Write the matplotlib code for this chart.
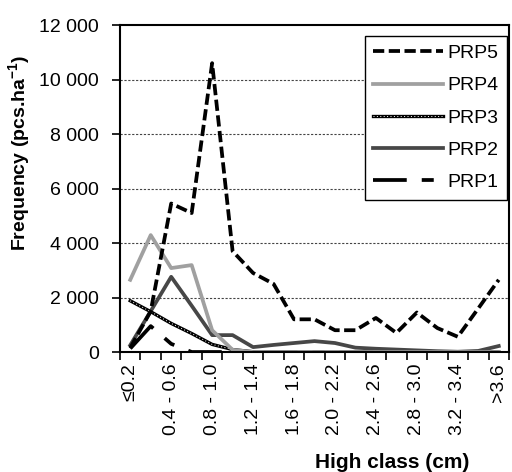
import numpy as np
import matplotlib
matplotlib.use('Agg')
import matplotlib.pyplot as plt
from matplotlib.legend_handler import HandlerTuple

plt.rcParams['font.family'] = ['Liberation Sans', 'DejaVu Sans']
plt.rcParams['mathtext.fontset'] = 'custom'
plt.rcParams['mathtext.rm'] = 'Liberation Sans:bold'

# height classes (cm)
classes = ['≤0.2', '0.2 - 0.4', '0.4 - 0.6', '0.6 - 0.8', '0.8 - 1.0', '1.0 - 1.2',
           '1.2 - 1.4', '1.4 - 1.6', '1.6 - 1.8', '1.8 - 2.0', '2.0 - 2.2', '2.2 - 2.4',
           '2.4 - 2.6', '2.6 - 2.8', '2.8 - 3.0', '3.0 - 3.2', '3.2 - 3.4', '3.4 - 3.6', '>3.6']

# frequency (pcs/ha) per plot
prp5 = [150, 1500, 5450, 5100, 10600, 3700, 2900, 2500, 1200, 1200,
        800, 800, 1250, 700, 1450, 880, 560, 1600, 2650]
prp4 = [2650, 4290, 3080, 3190, 800, 80, 0, 0, 0, 0,
        0, 0, 0, 0, 0, 0, 0, 0, 0]
prp3 = [1880, 1480, 1050, 680, 280, 90, 10, 0, 0, 0,
        0, 0, 0, 0, 0, 0, 0, 0, 0]
prp2 = [250, 1500, 2760, 1700, 620, 620, 180, 260, 330, 400,
        330, 160, 120, 90, 60, 30, 10, 40, 220]
prp1 = [130, 950, 300, 0, 0, 0, 0, 0, 0, 0,
        0, 0, 0, 0, 0, 0, 0, 0, 0]

x = np.arange(len(classes))

fig = plt.figure(figsize=(5.12, 4.72), dpi=100)
ax = fig.add_axes([0.2344, 0.2542, 0.7597, 0.6928])

lw = 2.7
l1, = ax.plot(x, prp1, color='black', lw=lw, dashes=(9, 4, 3.2, 4))
l2, = ax.plot(x, prp2, color='#474747', lw=lw)
l3a, = ax.plot(x, prp3, color='black', lw=2.4)
l3b, = ax.plot(x, prp3, color='white', lw=0.7, dashes=(1, 2.5))
l4, = ax.plot(x, prp4, color='#a0a0a0', lw=lw)
l5, = ax.plot(x, prp5, color='black', lw=lw, dashes=(3, 1.2))

ax.set_xlim(-0.5, len(classes) - 0.5)
ax.set_ylim(0, 12000)

# y axis
yt = np.arange(0, 12001, 2000)
ax.set_yticks(yt)
ax.set_yticklabels([f'{v:,}'.replace(',', ' ') for v in yt], fontsize=14)
ax.tick_params(axis='y', direction='out', length=6, width=1.2, pad=9)
for v in yt[1:-1]:
    ax.axhline(v, color='#444444', lw=0.8, ls=(0, (2, 1.5)), zorder=0)

# x axis: marks between classes, every second class labelled
ax.set_xticks(np.arange(-0.5, len(classes)), minor=False)
ax.set_xticklabels([])
ax.set_xticks(x, minor=True)
ax.set_xticklabels([c if i % 2 == 0 else '' for i, c in enumerate(classes)],
                   minor=True, rotation=90, fontsize=14)
ax.tick_params(axis='x', which='major', direction='out', length=6, width=1.2)
ax.tick_params(axis='x', which='minor', length=0, pad=8)

for s in ax.spines.values():
    s.set_linewidth(1.5)
    s.set_color('black')

ax.set_ylabel(r'Frequency (pcs.ha$^{\mathrm{-1}}$)', fontsize=14, fontweight='bold')
ax.yaxis.set_label_coords(-0.224, 0.61)
ax.set_xlabel('High class (cm)', fontsize=15, fontweight='bold')
ax.xaxis.set_label_coords(0.70, -0.31)

leg = ax.legend([l5, l4, (l3a, l3b), l2, l1], ['PRP5', 'PRP4', 'PRP3', 'PRP2', 'PRP1'],
                handler_map={tuple: HandlerTuple(ndivide=1, pad=0)},
                loc='upper right', bbox_to_anchor=(0.995, 0.967), fontsize=14,
                frameon=True, fancybox=False, framealpha=1, edgecolor='black',
                handlelength=3.6, handletextpad=0.2, labelspacing=0.75,
                borderpad=0.45, borderaxespad=0)
leg.get_frame().set_linewidth(1.0)

fig.savefig('out.png', dpi=100)
